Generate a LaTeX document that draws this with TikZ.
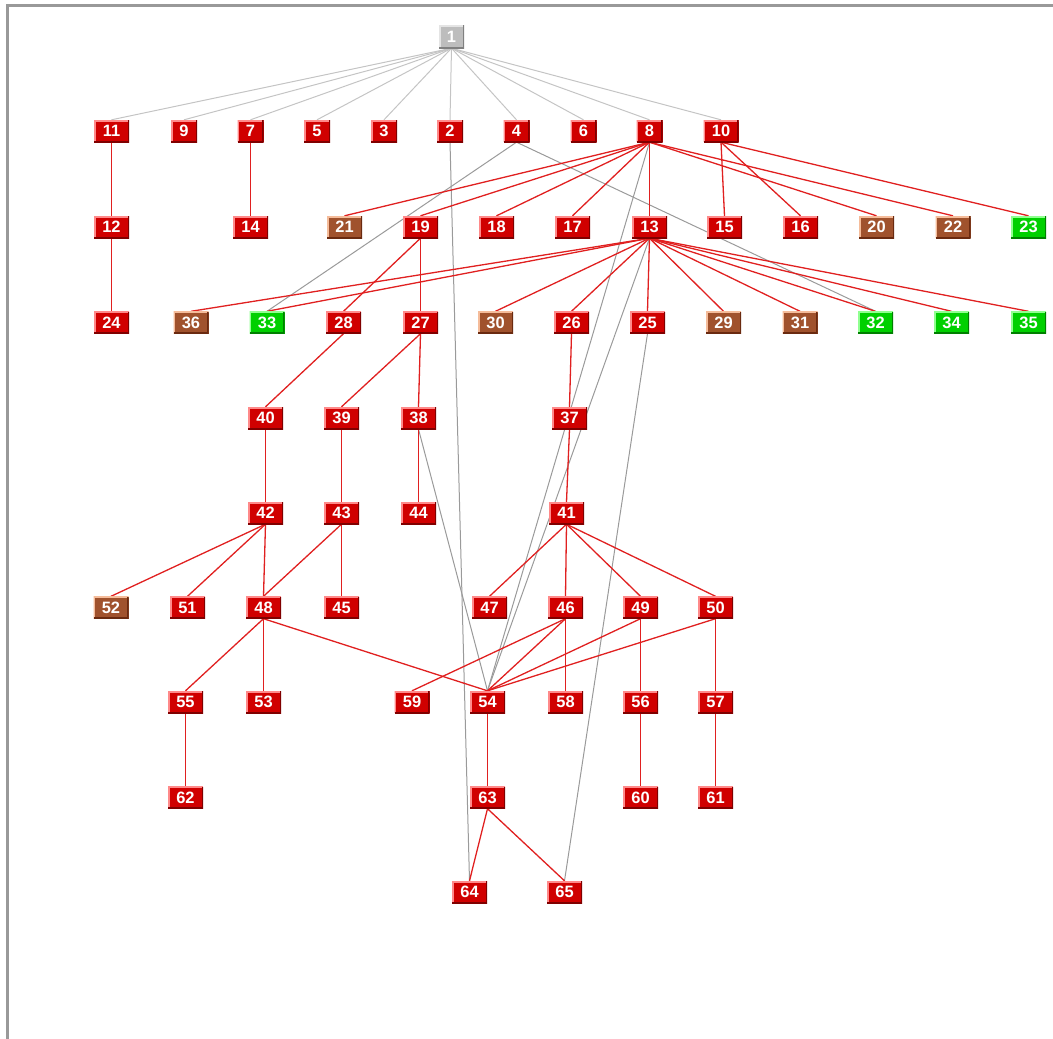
\documentclass[tikz,border=0pt]{standalone}
\usepackage{fontspec}
\setmainfont{Liberation Sans}
\usetikzlibrary{backgrounds}
\definecolor{cred}{HTML}{D00000}
\definecolor{credl}{HTML}{FF8A8A}
\definecolor{credd}{HTML}{800000}
\definecolor{cbrown}{HTML}{A0522D}
\definecolor{cbrownl}{HTML}{F5BC9A}
\definecolor{cbrownd}{HTML}{6A2A10}
\definecolor{cgreen}{HTML}{00D000}
\definecolor{cgreenl}{HTML}{90FF90}
\definecolor{cgreend}{HTML}{008000}
\definecolor{cgray}{HTML}{BDBDBD}
\definecolor{cgrayl}{HTML}{E4E4E4}
\definecolor{cgrayd}{HTML}{808080}
\definecolor{ered}{HTML}{E02020}
\definecolor{egray}{HTML}{9A9A9A}
\definecolor{elgray}{HTML}{C4C4C4}
\definecolor{framegray}{HTML}{999999}
\tikzset{
  box/.style n args={3}{draw=none, fill=#1, minimum width=35bp, minimum height=22bp,
    inner sep=0pt, text=white, font=\fontsize{16.5}{16.5}\selectfont\bfseries,
    path picture={
      \draw[#2, line width=3bp] (path picture bounding box.south west) -- (path picture bounding box.north west) -- (path picture bounding box.north east);
      \draw[#3, line width=3bp] (path picture bounding box.north east) -- (path picture bounding box.south east) -- (path picture bounding box.south west);
    }},
  rn/.style={box={cred}{credl}{credd}},
  bn/.style={box={cbrown}{cbrownl}{cbrownd}},
  gn/.style={box={cgreen}{cgreenl}{cgreend}},
  graynode/.style={box={cgray}{cgrayl}{cgrayd}, minimum width=25bp, minimum height=23bp},
  narrow/.style={minimum width=26bp},
  re/.style={draw=ered, line width=1.3bp},
  ge/.style={draw=egray, line width=1bp},
  le/.style={draw=elgray, line width=1bp},
}
\begin{document}
\begin{tikzpicture}[x=1bp,y=-1bp]
\useasboundingbox (0,0) rectangle (1053,1039);
% row 0
\node[graynode] (n1) at (451.5,36.5) {1};
% row 1
\node[rn] (n11) at (111.5,131) {11};
\node[rn,narrow] (n9) at (184,131) {9};
\node[rn,narrow] (n7) at (250.5,131) {7};
\node[rn,narrow] (n5) at (317,131) {5};
\node[rn,narrow] (n3) at (384,131) {3};
\node[rn,narrow] (n2) at (450,131) {2};
\node[rn,narrow] (n4) at (516.5,131) {4};
\node[rn,narrow] (n6) at (583.5,131) {6};
\node[rn,narrow] (n8) at (649.5,131) {8};
\node[rn] (n10) at (721,131) {10};
% row 2
\node[rn] (n12) at (111.5,227) {12};
\node[rn] (n14) at (250.5,227) {14};
\node[bn] (n21) at (344.5,227) {21};
\node[rn] (n19) at (420.5,227) {19};
\node[rn] (n18) at (496.5,227) {18};
\node[rn] (n17) at (572.5,227) {17};
\node[rn] (n13) at (649.5,227) {13};
\node[rn] (n15) at (724.5,227) {15};
\node[rn] (n16) at (800.5,227) {16};
\node[bn] (n20) at (876.5,227) {20};
\node[bn] (n22) at (953,227) {22};
\node[gn] (n23) at (1028.5,227) {23};
% row 3
\node[rn] (n24) at (111.5,322.5) {24};
\node[bn] (n36) at (191,322.5) {36};
\node[gn] (n33) at (267,322.5) {33};
\node[rn] (n28) at (343.5,322.5) {28};
\node[rn] (n27) at (420.5,322.5) {27};
\node[bn] (n30) at (495.5,322.5) {30};
\node[rn] (n26) at (571.5,322.5) {26};
\node[rn] (n25) at (647.5,322.5) {25};
\node[bn] (n29) at (723.5,322.5) {29};
\node[bn] (n31) at (800,322.5) {31};
\node[gn] (n32) at (875.5,322.5) {32};
\node[gn] (n34) at (951.5,322.5) {34};
\node[gn] (n35) at (1028.5,322.5) {35};
% row 4
\node[rn] (n40) at (265.5,418) {40};
\node[rn] (n39) at (341.5,418) {39};
\node[rn] (n38) at (418.5,418) {38};
\node[rn] (n37) at (569.5,418) {37};
% row 5
\node[rn] (n42) at (265.5,513) {42};
\node[rn] (n43) at (341.5,513) {43};
\node[rn] (n44) at (418.5,513) {44};
\node[rn] (n41) at (566.5,513) {41};
% row 6
\node[bn] (n52) at (111,607.5) {52};
\node[rn] (n51) at (187.5,607.5) {51};
\node[rn] (n48) at (263.5,607.5) {48};
\node[rn] (n45) at (341.5,607.5) {45};
\node[rn] (n47) at (489.5,607.5) {47};
\node[rn] (n46) at (565.5,607.5) {46};
\node[rn] (n49) at (640.5,607.5) {49};
\node[rn] (n50) at (715.5,607.5) {50};
% row 7
\node[rn] (n55) at (185.5,702) {55};
\node[rn] (n53) at (263.5,702) {53};
\node[rn] (n59) at (412,702) {59};
\node[rn] (n54) at (487.5,702) {54};
\node[rn] (n58) at (565.5,702) {58};
\node[rn] (n56) at (640.5,702) {56};
\node[rn] (n57) at (715.5,702) {57};
% row 8
\node[rn] (n62) at (185.5,797.5) {62};
\node[rn] (n63) at (487.5,797.5) {63};
\node[rn] (n60) at (640.5,797.5) {60};
\node[rn] (n61) at (715.5,797.5) {61};
% row 9
\node[rn] (n64) at (469.5,892) {64};
\node[rn] (n65) at (564.5,892) {65};

\begin{pgfonlayer}{background}
\draw[framegray, line width=3bp] (7.5,1039) -- (7.5,5.5) -- (1053,5.5);
% light gray edges from root
\foreach \c in {11,9,7,5,3,2,4,6,8,10}
  \draw[le] (n1.south) -- (n\c.north);
% gray edges
\draw[ge] (n4.south) -- (n33.north);
\draw[ge] (n4.south) -- (n32.north);
\draw[ge] (n2.south) -- (n64.north);
\draw[ge] (n8.south) -- (n54.north);
\draw[ge] (n13.south) -- (n54.north);
\draw[ge] (n38.south) -- (n54.north);
\draw[ge] (n25.south) -- (n65.north);
% red edges
\foreach \a/\b in {11/12,12/24,7/14,
  8/21,8/19,8/18,8/17,8/13,8/20,8/22,
  10/15,10/16,10/23,
  13/36,13/33,13/30,13/26,13/25,13/29,13/31,13/32,13/34,13/35,
  19/28,19/27,28/40,27/39,27/38,26/37,37/41,38/44,
  40/42,39/43,42/52,42/51,42/48,43/48,43/45,
  41/47,41/46,41/49,41/50,
  48/55,48/53,48/54,46/59,46/54,46/58,49/54,49/56,50/54,50/57,
  55/62,54/63,56/60,57/61,63/64,63/65}
  \draw[re] (n\a.south) -- (n\b.north);
\end{pgfonlayer}
\end{tikzpicture}
\end{document}
